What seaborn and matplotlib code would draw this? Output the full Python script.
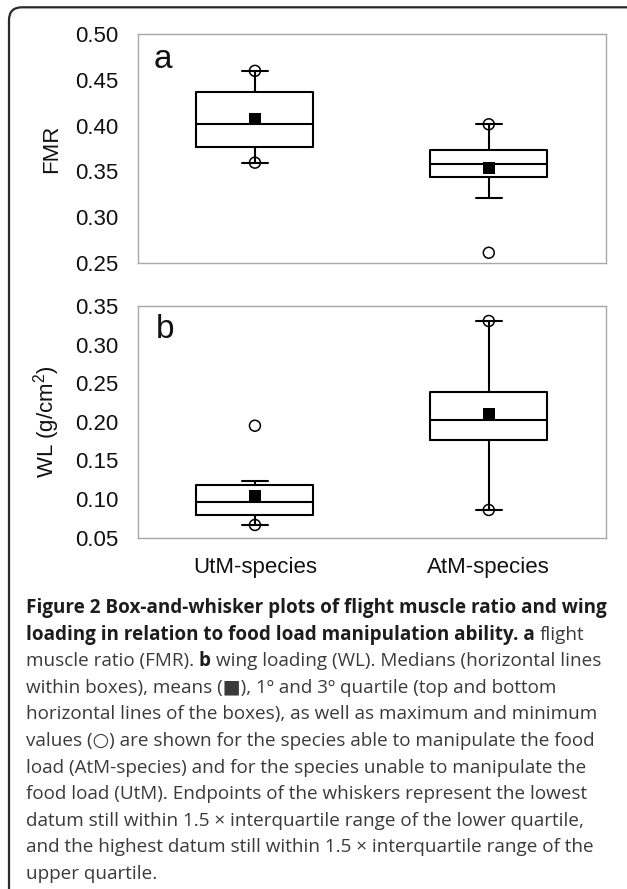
import matplotlib
matplotlib.use("Agg")
import matplotlib.pyplot as plt
import numpy as np
import pandas as pd
import seaborn as sns
from matplotlib.patches import FancyBboxPatch

# ---------------- data ----------------
groups = ["UtM-species", "AtM-species"]
positions = [0, 1]

# Panel a: flight muscle ratio (FMR)
fmr_q1 = [0.377, 0.3435]
fmr_med = [0.4015, 0.358]
fmr_q3 = [0.437, 0.373]
fmr_whislo = [0.3595, 0.3203]
fmr_whishi = [0.460, 0.4015]
fmr_mean = [0.407, 0.3533]
fmr_min = [0.3595, 0.2609]
fmr_max = [0.460, 0.4015]
fmr_ticks = [0.25, 0.30, 0.35, 0.40, 0.45, 0.50]

# Panel b: wing loading (WL)
wl_q1 = [0.0794, 0.1761]
wl_med = [0.0962, 0.202]
wl_q3 = [0.1178, 0.2383]
wl_whislo = [0.0665, 0.0859]
wl_whishi = [0.1238, 0.3306]
wl_mean = [0.104, 0.2102]
wl_min = [0.0665, 0.0859]
wl_max = [0.195, 0.3306]
wl_ticks = [0.05, 0.10, 0.15, 0.20, 0.25, 0.30, 0.35]

caption_lines = [
    [("Figure 2 Box-and-whisker plots of flight muscle ratio and wing", "bold")],
    [("loading in relation to food load manipulation ability. a", "bold"), ("flight", "normal")],
    [("muscle ratio (FMR).", "normal"), ("b", "bold"),
     ("wing loading (WL). Medians (horizontal lines", "normal")],
    [("within boxes), means (\u25a0), 1\u00ba and 3\u00ba quartile (top and bottom", "normal")],
    [("horizontal lines of the boxes), as well as maximum and minimum", "normal")],
    [("values (\u25cb) are shown for the species able to manipulate the food", "normal")],
    [("load (AtM-species) and for the species unable to manipulate the", "normal")],
    [("food load (UtM). Endpoints of the whiskers represent the lowest", "normal")],
    [("datum still within 1.5 \u00d7 interquartile range of the lower quartile,", "normal")],
    [("and the highest datum still within 1.5 \u00d7 interquartile range of the", "normal")],
    [("upper quartile.", "normal")],
]

# ---------------- style ----------------
sns.set_style("white")
plt.rcParams["font.family"] = ["Liberation Sans", "DejaVu Sans"]
plt.rcParams["mathtext.default"] = "regular"

W, H = 627, 889
fig = plt.figure(figsize=(W / 100, H / 100), dpi=100)
fig.patch.set_facecolor("white")

ax1 = fig.add_axes([138 / W, 1 - 262.7 / H, 467.7 / W, 228.4 / H])
ax2 = fig.add_axes([138 / W, 1 - 537.7 / H, 467.7 / W, 231.7 / H])

spine_col = "#a8a8a8"
box_lw = 1.5


def draw_panel(ax, q1, med, q3, wlo, whi, mean, vmin, vmax, ticks, ylabel, letter):
    stats = []
    for i in range(len(groups)):
        stats.append(dict(med=med[i], q1=q1[i], q3=q3[i], whislo=wlo[i],
                          whishi=whi[i], fliers=[], label=groups[i]))
    line = dict(color="black", linewidth=box_lw)
    ax.bxp(stats, positions=positions, widths=0.5, capwidths=[0.11, 0.11],
           showfliers=False, boxprops=line, medianprops=line,
           whiskerprops=line, capprops=line, manage_ticks=False)
    df_mean = pd.DataFrame({"pos": positions, "val": mean})
    sns.scatterplot(data=df_mean, x="pos", y="val", marker="s", s=72,
                    color="black", edgecolor="black", linewidth=0, ax=ax,
                    zorder=4, legend=False)
    df_ext = pd.DataFrame({"pos": positions * 2, "val": list(vmin) + list(vmax)})
    sns.scatterplot(data=df_ext, x="pos", y="val", marker="o", s=62,
                    facecolor="none", edgecolor="black", linewidth=1.1,
                    ax=ax, zorder=4, legend=False)
    ax.set_xlim(-0.5, 1.5)
    ax.set_ylim(ticks[0], ticks[-1])
    ax.set_yticks(ticks)
    ax.set_yticklabels([f"{t:.2f}" for t in ticks])
    ax.tick_params(axis="y", direction="inout", length=11.5, width=1.0,
                   color=spine_col, pad=8.6, labelsize=16, labelcolor="#111111")
    for sp in ax.spines.values():
        sp.set_color(spine_col)
        sp.set_linewidth(1.0)
    ax.set_ylabel(ylabel, fontsize=16, color="#111111")
    ax.yaxis.set_label_coords(-0.162, 0.5)
    ax.text(0.033 if letter == "a" else 0.038, 0.852 if letter == "a" else 0.862,
            letter, transform=ax.transAxes, fontsize=24, va="baseline",
            ha="left", color="#111111")
    ax.set_xlabel("")


draw_panel(ax1, fmr_q1, fmr_med, fmr_q3, fmr_whislo, fmr_whishi, fmr_mean,
           fmr_min, fmr_max, fmr_ticks, "FMR", "a")
draw_panel(ax2, wl_q1, wl_med, wl_q3, wl_whislo, wl_whishi, wl_mean,
           wl_min, wl_max, wl_ticks, "WL (g/cm$^2$)", "b")

ax1.set_xticks([])
ax2.set_xticks(positions)
ax2.set_xticklabels(groups)
ax2.tick_params(axis="x", length=0, pad=14, labelsize=16, labelcolor="#111111")

# ---------------- border ----------------
border = FancyBboxPatch((0.09, -1.0), 8.0, 8.89 - 0.073 + 1.0,
                        boxstyle="round,pad=0,rounding_size=0.13",
                        transform=fig.dpi_scale_trans, facecolor="none",
                        edgecolor="#2a2a2a", linewidth=1.6)
fig.add_artist(border)

# ---------------- caption ----------------
cap_family = ["Open Sans", "DejaVu Sans"]
cap_size = 13.6
renderer = fig.canvas.get_renderer()


def tw(s, weight):
    t = fig.text(0, 0, s, transform=None, fontsize=cap_size,
                 fontweight=weight, family=cap_family)
    w = t.get_window_extent(renderer).width
    t.remove()
    return w


space_w = tw("n n", "normal") - tw("nn", "normal")
x0 = 26
for i, segs in enumerate(caption_lines):
    y = H - (613 + 26.6 * i)
    x = x0
    for s, weight in segs:
        col = "#1c1c1c" if weight == "bold" else "#3a3a3a"
        t = fig.text(x, y, s, transform=None, fontsize=cap_size,
                     fontweight=weight, family=cap_family, color=col,
                     ha="left", va="baseline")
        x += t.get_window_extent(renderer).width + space_w

fig.savefig("out.png", dpi=100)
